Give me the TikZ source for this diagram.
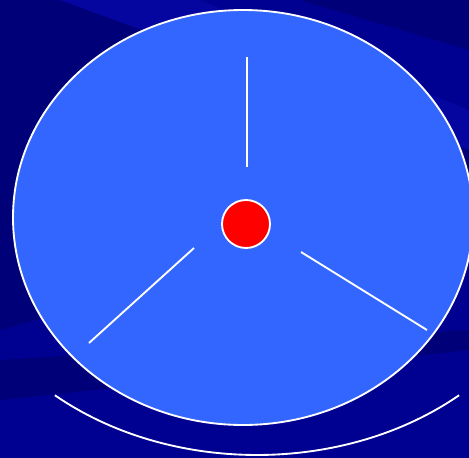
\documentclass[tikz,border=0pt]{standalone}
\usepackage{tikz}
\usetikzlibrary{calc}
\definecolor{DeepBlue}{RGB}{0,0,145}
\definecolor{DarkBand}{RGB}{0,0,120}
\definecolor{LightBand}{RGB}{5,5,160}
\definecolor{DiscBlue}{RGB}{51,102,255}
\definecolor{HubRed}{RGB}{255,0,0}
\begin{document}
\begin{tikzpicture}[x=0.75pt,y=-0.75pt]
            \useasboundingbox (0,0) rectangle (469,458);
            % background bands
            \fill[DeepBlue] (0,0) rectangle (469,458);
            \fill[DarkBand] (0,0)--(60,0)--(469,150)--(469,200)--(0,330)--cycle;
            \fill[LightBand] (0,0)--(60,0)--(469,150)--(469,110)--(200,0)--cycle;
            \fill[DarkBand] (300,0)--(469,0)--(469,50)--cycle;
            \fill[DarkBand] (0,360)--(469,330)--(469,350)--(0,400)--cycle;
            \coordinate (Hub) at (246,224);
            \coordinate (Mid) at (243,217.5);
            \coordinate (Atop) at (247,57);
            \coordinate (Btop) at (247,167);
            \coordinate (Aleft) at (194,248);
            \coordinate (Bleft) at (89,343);
            \coordinate (Aright) at (301,252);
            \coordinate (Bright) at (427,330);
            \filldraw[fill=DiscBlue,draw=white,line width=1.4pt] (Mid) ellipse [x radius=230,y radius=207.5];
            \draw[white,line width=1.4pt] (Atop)--(Btop);
            \draw[white,line width=1.4pt] (Aleft)--(Bleft);
            \draw[white,line width=1.4pt] (Aright)--(Bright);
            \filldraw[fill=HubRed,draw=white,line width=1.4pt] (Hub) circle (24);
            \draw[white,line width=1.4pt] (257,217) ++(131.5:305 and 238) arc [start angle=131.5,end angle=48.5,x radius=305,y radius=238];
        \end{tikzpicture}
\end{document}
